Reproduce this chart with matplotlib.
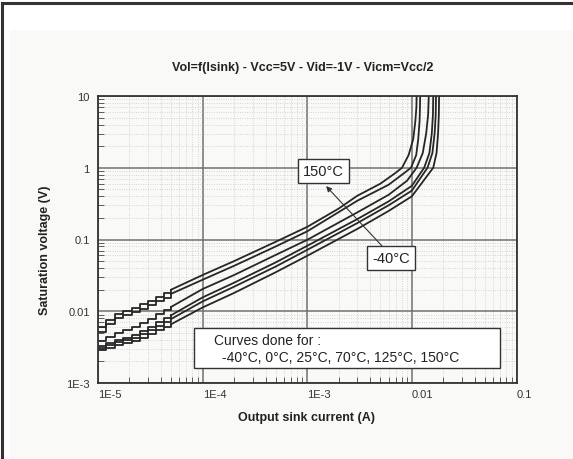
"""Saturation voltage vs output sink current, one curve per temperature."""

import matplotlib

matplotlib.use("Agg")

import matplotlib.pyplot as plt  # noqa: E402
from matplotlib.patches import Rectangle  # noqa: E402
from matplotlib.lines import Line2D  # noqa: E402
from matplotlib.ticker import FixedLocator, LogLocator, NullFormatter  # noqa: E402

plt.rcParams["font.family"] = ["Liberation Sans", "DejaVu Sans"]

# values (current in A, voltage in V)
temps = ["-40°C", "0°C", "25°C", "70°C", "125°C", "150°C"]

# low-current part is quantised (staircase) in the measurement
step_i = [1e-5, 1.2e-5, 1.45e-5, 1.75e-5, 2.1e-5, 2.5e-5, 3e-5, 3.6e-5, 4.3e-5]
step_m40 = [0.0029, 0.0031, 0.0034, 0.0036, 0.0039, 0.0043, 0.0048, 0.0054, 0.0060]
step_0 = [0.0031, 0.0034, 0.0037, 0.0040, 0.0043, 0.0048, 0.0055, 0.0063, 0.0071]
step_25 = [0.0033, 0.0036, 0.0040, 0.0043, 0.0047, 0.0053, 0.0061, 0.0070, 0.0080]
step_70 = [0.0039, 0.0044, 0.0050, 0.0055, 0.0060, 0.0068, 0.0079, 0.0091, 0.0104]
step_125 = [0.0052, 0.0066, 0.0080, 0.0088, 0.0097, 0.0108, 0.0122, 0.0138, 0.0155]
step_150 = [0.0060, 0.0076, 0.0092, 0.0100, 0.0112, 0.0125, 0.0140, 0.0158, 0.0178]

i_m40 = [5e-5, 1e-4, 2e-4, 5e-4, 1e-3, 3e-3, 6e-3, 1e-2, 0.0160, 0.0172, 0.0178, 0.0181, 0.0182]
v_m40 = [0.0066, 0.0113, 0.018, 0.035, 0.0593, 0.140, 0.25, 0.40, 1.0, 1.6, 3.0, 5.5, 10.0]

i_0 = [5e-5, 1e-4, 2e-4, 5e-4, 1e-3, 3e-3, 6e-3, 1e-2, 0.0141, 0.0157, 0.0165, 0.0169, 0.0170]
v_0 = [0.0078, 0.0137, 0.022, 0.042, 0.0718, 0.169, 0.30, 0.48, 1.0, 1.6, 3.0, 5.5, 10.0]

i_25 = [5e-5, 1e-4, 2e-4, 5e-4, 1e-3, 3e-3, 6e-3, 1e-2, 0.0131, 0.0147, 0.0155, 0.0159, 0.0160]
v_25 = [0.0088, 0.0156, 0.025, 0.048, 0.0817, 0.192, 0.34, 0.56, 1.0, 1.6, 3.0, 5.5, 10.0]

i_70 = [5e-5, 1e-4, 2e-4, 5e-4, 1e-3, 3e-3, 6e-3, 9e-3, 0.0111, 0.0127, 0.0137, 0.0143, 0.0145]
v_70 = [0.0115, 0.0204, 0.032, 0.061, 0.099, 0.238, 0.42, 0.66, 1.0, 1.6, 3.0, 5.5, 10.0]

i_125 = [5e-5, 1e-4, 2e-4, 5e-4, 1e-3, 3e-3, 6e-3, 8.5e-3, 9.8e-3, 0.0110, 0.0115, 0.01185, 0.01195, 0.0120]
v_125 = [0.0175, 0.0275, 0.043, 0.080, 0.130, 0.346, 0.58, 0.85, 1.0, 1.5, 2.5, 4.5, 7.0, 10.0]

i_150 = [5e-5, 1e-4, 2e-4, 5e-4, 1e-3, 2e-3, 3e-3, 5e-3, 7e-3, 8.05e-3, 9.3e-3, 0.0103, 0.0108, 0.01105, 0.0111]
v_150 = [0.020, 0.032, 0.050, 0.093, 0.150, 0.27, 0.406, 0.60, 0.85, 1.0, 1.5, 2.5, 4.5, 7.0, 10.0]

curves = [
    (step_m40, i_m40, v_m40),
    (step_0, i_0, v_0),
    (step_25, i_25, v_25),
    (step_70, i_70, v_70),
    (step_125, i_125, v_125),
    (step_150, i_150, v_150),
]

x_ticks = [1e-5, 1e-4, 1e-3, 1e-2, 1e-1]
x_ticklabels = ["1E-5", "1E-4", "1E-3", "0.01", "0.1"]
y_ticks = [1e-3, 1e-2, 1e-1, 1, 10]
y_ticklabels = ["1E-3", "0.01", "0.1", "1", "10"]

title = "Vol=f(Isink) - Vcc=5V - Vid=-1V - Vicm=Vcc/2"
xlabel = "Output sink current (A)"
ylabel = "Saturation voltage (V)"
note_1 = "Curves done for :"
note_2 = "-40°C, 0°C, 25°C, 70°C, 125°C, 150°C"

W, H = 573, 460
BG = "#f9f9f7"
INK = "#262626"

fig = plt.figure(figsize=(W / 100, H / 100), dpi=100, facecolor="white")

# light panel + dark frame on top/left edges
fig.patches.append(Rectangle((10 / W, 0), 1, 1 - 31 / H, transform=fig.transFigure,
                             facecolor=BG, edgecolor="none", zorder=-5))
fig.lines.append(Line2D([1.5 / W, 1.5 / W], [0, 1 - 4 / H], transform=fig.transFigure,
                        color="#333333", lw=2.2, zorder=-4))
fig.lines.append(Line2D([1.5 / W, 1], [1 - 4 / H, 1 - 4 / H], transform=fig.transFigure,
                        color="#333333", lw=2.2, zorder=-4))

ax = fig.add_axes([98 / W, 1 - 384 / H, (516.5 - 98) / W, (384 - 97) / H])
ax.set_facecolor(BG)
ax.set_xscale("log")
ax.set_yscale("log")
ax.set_xlim(1e-5, 0.1)
ax.set_ylim(1e-3, 10)

ax.xaxis.set_major_locator(FixedLocator(x_ticks))
ax.set_xticklabels(x_ticklabels, ha="left")
ax.yaxis.set_major_locator(FixedLocator(y_ticks))
ax.set_yticklabels(y_ticklabels)
for axis in (ax.xaxis, ax.yaxis):
    axis.set_minor_locator(LogLocator(base=10, subs=range(2, 10)))
    axis.set_minor_formatter(NullFormatter())

ax.tick_params(which="both", direction="in", colors="#444444", labelcolor="#333333",
               labelsize=8)
ax.tick_params(which="major", length=0)
ax.tick_params(which="minor", length=4, width=0.6)
ax.tick_params(axis="x", pad=4)
ax.tick_params(axis="y", pad=6)

ax.grid(which="major", color="#707070", lw=1.1, ls="-")
ax.grid(which="minor", color="#b4b4b4", lw=0.5, ls=(0, (1, 2.4)))
ax.set_axisbelow(True)
for sp in ax.spines.values():
    sp.set_color("#333333")
    sp.set_linewidth(1.3)

for steps, cur, volt in curves:
    ax.plot(step_i + cur[:1], steps + volt[:1], color=INK, lw=1.3,
            drawstyle="steps-post")
    ax.plot(cur, volt, color=INK, lw=1.3, solid_joinstyle="round")

# temperature labels and arrow
ax.annotate("", xy=(0.545, 0.686), xytext=(0.679, 0.477), xycoords="axes fraction",
            arrowprops=dict(arrowstyle="-|>", color="#333333", lw=0.8,
                            mutation_scale=8, shrinkA=0, shrinkB=0))
box = dict(boxstyle="square,pad=0.35", facecolor="white", edgecolor="#333333", lw=1.0)
ax.text(0.539, 0.740, temps[-1], transform=ax.transAxes, ha="center", va="center",
        fontsize=10.5, color="#222222", bbox=box)
ax.text(0.700, 0.436, temps[0], transform=ax.transAxes, ha="center", va="center",
        fontsize=10.5, color="#222222", bbox=box)

ax.add_patch(Rectangle((0.229, 0.052), 0.732, 0.140, transform=ax.transAxes,
                       facecolor="white", edgecolor="#333333", lw=1.0, zorder=5))
ax.text(0.277, 0.150, note_1, transform=ax.transAxes, ha="left", va="center",
        fontsize=10, color="#222222", zorder=6)
ax.text(0.296, 0.091, note_2, transform=ax.transAxes, ha="left", va="center",
        fontsize=10, color="#222222", zorder=6)

fig.text(303 / W, 1 - 68 / H, title, ha="center", va="center", fontsize=9,
         fontweight="bold", color="#222222")
fig.text(307 / W, 1 - 418 / H, xlabel, ha="center", va="center", fontsize=9,
         fontweight="bold", color="#222222")
fig.text(45 / W, 1 - 250 / H, ylabel, ha="center", va="center", rotation=90,
         fontsize=9, fontweight="bold", color="#222222")

fig.savefig("out.png", dpi=100, facecolor=fig.get_facecolor())
plt.close(fig)
